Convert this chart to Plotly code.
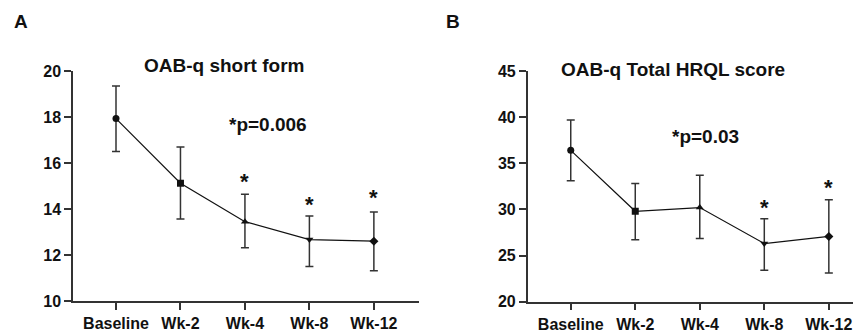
import plotly.graph_objects as go

categories = ["Baseline", "Wk-2", "Wk-4", "Wk-8", "Wk-12"]
symbols = ["circle", "square", "triangle-up", "triangle-down", "diamond"]

# Panel A: OAB-q short form
a_mean = [17.93, 15.12, 13.45, 12.67, 12.60]
a_upper = [19.35, 16.70, 14.64, 13.70, 13.87]
a_lower = [16.50, 13.57, 12.32, 11.50, 11.32]
a_star_cats = ["Wk-4", "Wk-8", "Wk-12"]
a_star_y = [15.3, 14.3, 14.57]

# Panel B: OAB-q Total HRQL score
b_mean = [36.4, 29.8, 30.2, 26.3, 27.07]
b_upper = [39.7, 32.8, 33.7, 29.0, 31.05]
b_lower = [33.1, 26.7, 26.85, 23.4, 23.1]
b_star_cats = ["Wk-8", "Wk-12"]
b_star_y = [30.4, 32.6]

W, H = 866, 333
FONT = "Liberation Sans, Arial, sans-serif"

fig = go.Figure()

def add_series(mean, upper, lower, xa, ya):
    fig.add_trace(go.Scatter(
        x=list(range(len(categories))), y=mean, mode="lines+markers",
        xaxis=xa, yaxis=ya,
        line=dict(color="#111", width=1.2),
        marker=dict(symbol=symbols, size=7, color="#111"),
        error_y=dict(type="data", symmetric=False,
                     array=[u - m for u, m in zip(upper, mean)],
                     arrayminus=[m - l for m, l in zip(mean, lower)],
                     color="#333", thickness=1.5, width=4),
        showlegend=False, hoverinfo="skip"))

add_series(a_mean, a_upper, a_lower, "x", "y")
add_series(b_mean, b_upper, b_lower, "x2", "y2")

def px_x(p):
    return p / W

def px_y(p):
    return 1 - p / H

axis_common = dict(showgrid=False, zeroline=False, showline=True, linecolor="#333",
                   linewidth=1.5, ticks="outside", ticklen=7, tickwidth=1.5,
                   tickcolor="#333",
                   tickfont=dict(family=FONT, size=16, color="#111", weight="bold"))

fig.update_layout(
    width=W, height=H, margin=dict(l=0, r=0, t=0, b=0, autoexpand=False),
    paper_bgcolor="white", plot_bgcolor="white",
    xaxis=dict(domain=[px_x(73), px_x(419)], range=[-0.667, 4.7],
               tickmode="array", tickvals=list(range(5)), ticktext=categories,
               anchor="y", **axis_common),
    yaxis=dict(domain=[px_y(301), px_y(71)], range=[10, 20],
               tickmode="array", tickvals=[10, 12, 14, 16, 18, 20],
               anchor="x", **axis_common),
    xaxis2=dict(domain=[px_x(527.7), px_x(852.7)], range=[-0.667, 4.37],
                tickmode="array", tickvals=list(range(5)), ticktext=categories,
                anchor="y2", **axis_common),
    yaxis2=dict(domain=[px_y(301.7), px_y(71)], range=[20, 45],
                tickmode="array", tickvals=[20, 25, 30, 35, 40, 45],
                anchor="x2", **axis_common),
)

ann = []
bold = lambda s: dict(family=FONT, size=s, color="#111", weight="bold")

def paper_text(text, x, y, size):
    ann.append(dict(text=text, x=px_x(x), y=px_y(y), xref="paper", yref="paper",
                    xanchor="center", yanchor="middle", showarrow=False, font=bold(size)))

paper_text("A", 21, 21, 19)
paper_text("B", 453, 21, 19)
paper_text("OAB-q short form", 224, 66, 19)
paper_text("OAB-q Total HRQL score", 673, 69, 19)
paper_text("*p=0.006", 268, 124, 19)
paper_text("*p=0.03", 705, 137, 19)

for c, yv in zip(a_star_cats, a_star_y):
    ann.append(dict(text="*", x=categories.index(c), y=yv, xref="x", yref="y",
                    xanchor="center", yanchor="middle",
                    showarrow=False, font=bold(22), yshift=-2))
for c, yv in zip(b_star_cats, b_star_y):
    ann.append(dict(text="*", x=categories.index(c), y=yv, xref="x2", yref="y2",
                    xanchor="center", yanchor="middle",
                    showarrow=False, font=bold(22), yshift=-2))
fig.update_layout(annotations=ann)

fig.write_html("out.html", config={"displayModeBar": False},
               post_script="document.body.style.margin='0';")
